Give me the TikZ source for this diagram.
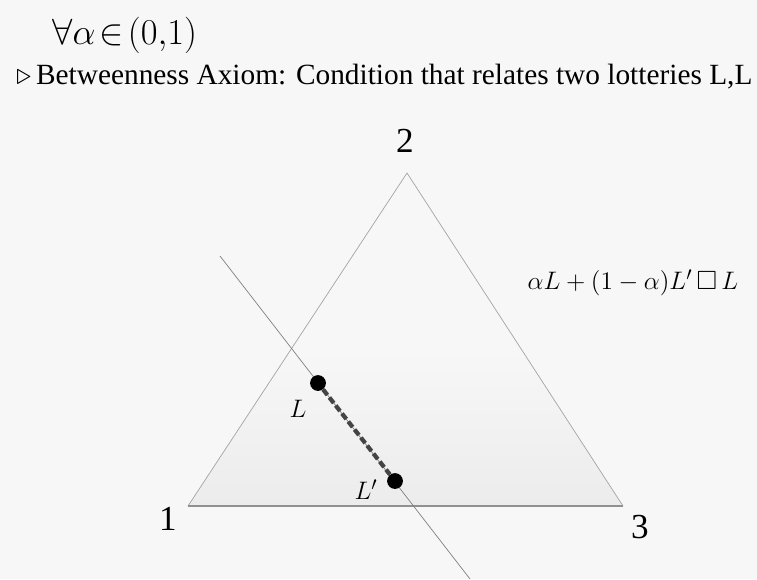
\documentclass[tikz,border=0pt]{standalone}
\usepackage{amsmath}
\usepackage{amssymb}
\usepackage{fontspec}
\setmainfont{Liberation Serif}
\usetikzlibrary{positioning}
\definecolor{slidebg}{HTML}{F7F7F7}
\definecolor{edgegray}{HTML}{A4A4A4}
\definecolor{basegray}{HTML}{909090}
\definecolor{dashgray}{HTML}{444444}

\tikzset{
  vlabel/.style={font=\fontsize{20}{20}\selectfont, inner sep=0pt},
  lotlabel/.style={font=\fontsize{15}{15}\selectfont, inner sep=0pt},
  lotdot/.style={circle, fill=black, minimum size=9pt, inner sep=0pt},
}

\begin{document}
\begin{tikzpicture}[x=0.02cm, y=-0.02cm]
\fill[slidebg] (0,0) rectangle (757,579);
\useasboundingbox (0,0) rectangle (757,579);
% header text
\node[anchor=base west, inner sep=0pt, font=\fontsize{21}{21}\selectfont] (forall) at (52,44) {$\forall\alpha\mskip2mu{\in}\mskip2mu(0{,}1)$};
\node[anchor=base west, inner sep=0pt, font=\fontsize{16.7}{16.7}\selectfont] (axiom) at (16,84) {$\triangleright$\,Betweenness Axiom: Condition that relates two lotteries L,L};
% simplex
\coordinate (v1) at (188,506);
\coordinate (v2) at (407,173);
\coordinate (v3) at (623,506);
\begin{scope}
  \clip (v1) -- (v2) -- (v3) -- cycle;
  \shade[top color=slidebg, bottom color=gray!15] (150,350) rectangle (660,507);
\end{scope}
\draw[edgegray, thin] (v1) -- (v2) -- (v3);
\draw[basegray, line width=0.9pt] (v1) -- (v3);
\node[vlabel] (n1) at (168,519) {1};
\node[vlabel] (n2) at (405,141) {2};
\node[vlabel] (n3) at (640,527) {3};
% indifference line
\coordinate (ltop) at (220,256);
\coordinate (lbot) at (470,579);
\draw[gray, thin] (ltop) -- (lbot);
% lotteries
\node[lotdot] (lotL) at (318,383) {};
\node[lotdot] (lotLp) at (395,481) {};
\draw[dashgray, line width=2.4pt, dash pattern=on 4pt off 1.8pt] (lotL) -- (lotLp);
\node[lotlabel, below left=6pt and 3pt of lotL] (labL) {$L$};
\node[lotlabel, left=5pt of lotLp, yshift=-5pt] (labLp) {$L'$};
\node[inner sep=0pt, font=\fontsize{15}{15}\selectfont] (mix) at (633,283) {$\alpha L+(1-\alpha)L'\,\square\, L$};
\end{tikzpicture}
\end{document}
